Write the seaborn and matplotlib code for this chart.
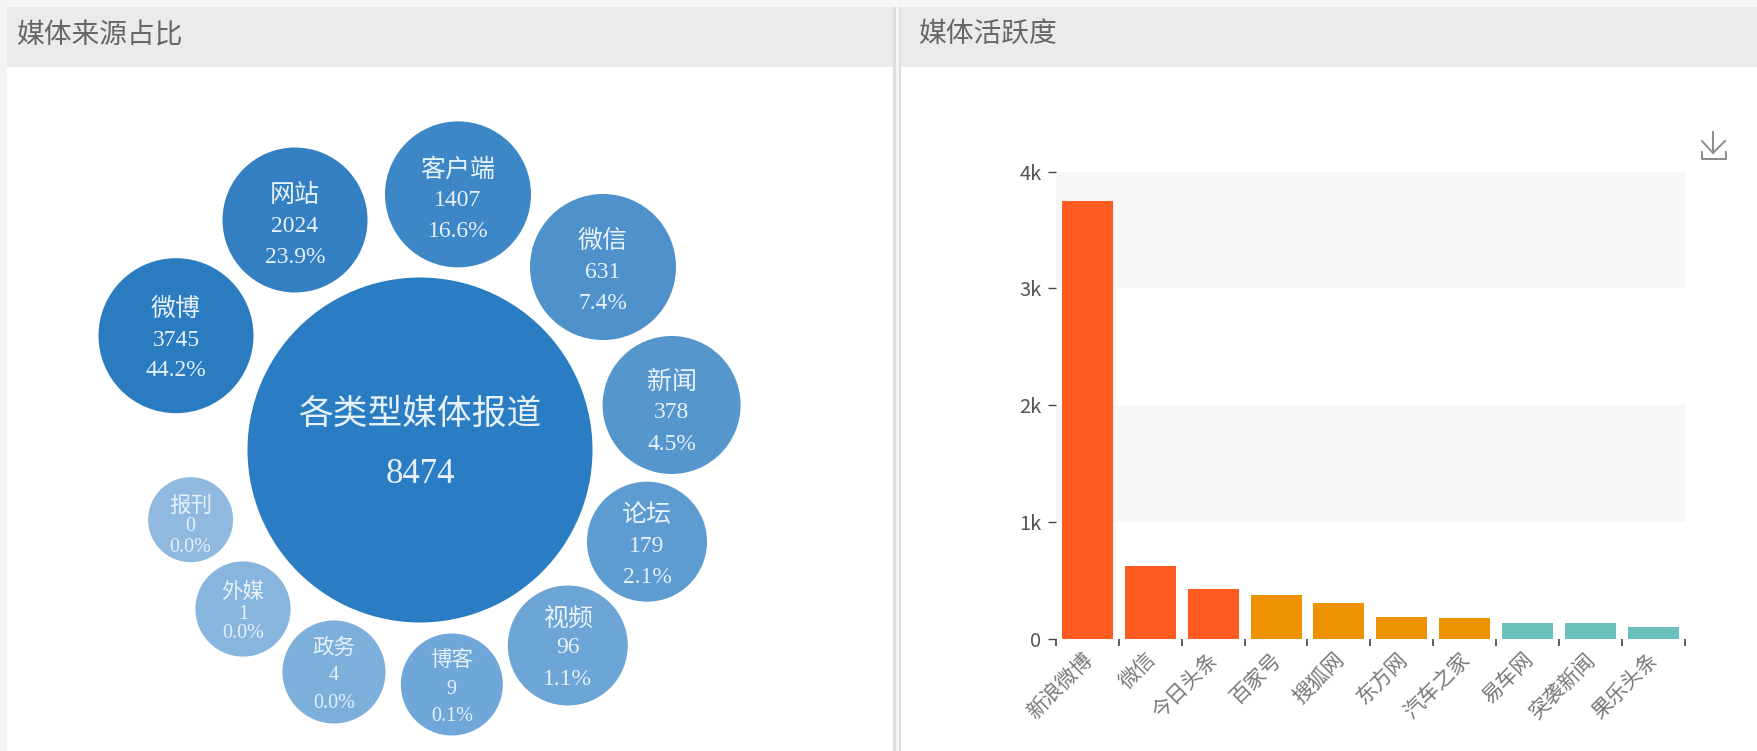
#!/usr/bin/env python3
# -*- coding: utf-8 -*-
import pandas as pd
import seaborn as sns
import matplotlib.pyplot as plt
from matplotlib.patches import Rectangle
from matplotlib.transforms import ScaledTranslation

WIDTH = 1757
HEIGHT = 751
CJK = ['Noto Sans CJK SC', 'DejaVu Sans']
NUM = ['Liberation Serif', 'DejaVu Serif']

# media source bubbles
SOURCES = ['微博', '网站', '客户端', '微信', '新闻', '论坛', '视频', '博客', '政务', '外媒', '报刊']
COUNTS = [3745, 2024, 1407, 631, 378, 179, 96, 9, 4, 1, 0]
SHARES = ['44.2%', '23.9%', '16.6%', '7.4%', '4.5%', '2.1%', '1.1%', '0.1%', '0.0%', '0.0%', '0.0%']
TOTAL_NAME = '各类型媒体报道'
TOTAL = 8474

# bubble layout, in pixels
BUBBLE_X = [176, 295, 458, 603, 671.6, 647, 567.8, 451.8, 334, 243, 190.6]
BUBBLE_Y = [335.7, 220, 194.4, 267, 405, 541.7, 645.5, 684.5, 672, 609, 519.7]
BUBBLE_R = [77.5, 72.5, 73, 73, 69, 60, 60, 51, 51.5, 47.6, 42.5]
BUBBLE_COLORS = ['#2b7bc0', '#347fc1', '#3d87c6', '#4e91cb', '#5596cd', '#5d9bd0',
                 '#6ca5d6', '#6fa7d8', '#7dafdb', '#88b5dd', '#8fb9de']
TEXT_COLOR = '#e6f1fa'
LINE_OFFSETS = [(-27, 4.5, 34.5), (-24.5, 6.5, 37.5), (-24.5, 6.5, 37.5), (-26, 5.5, 36.5),
                (-23, 7.5, 39), (-27, 4.4, 35.4), (-27, 2, 34), (-24, 5, 32.4),
                (-24.5, 4, 32), (-17.5, 5.6, 25), (-13.7, 6.6, 27.4)]
NAME_SIZES = [18] * 7 + [15.5] * 4
NUM_SIZES = [17] * 7 + [14.5] * 4

# media activity bars
MEDIA = ['新浪微博', '微信', '今日头条', '百家号', '搜狐网', '东方网', '汽车之家', '易车网', '突袭新闻', '果乐头条']
ACTIVITY = [3745, 631, 430, 378, 307, 192, 180, 139, 139, 110]
BAR_COLORS = ['#ff5a1f'] * 3 + ['#ef9200'] * 4 + ['#6bbfbc'] * 3
Y_TICKS = [0, 1000, 2000, 3000, 4000]
Y_LABELS = ['0', '1k', '2k', '3k', '4k']


def px_rect(ax, x0, y0, x1, y1, color):
    ax.add_patch(Rectangle((x0, y0), x1 - x0, y1 - y0, color=color, lw=0))


def draw_page(ax):
    ax.set_xlim(0, WIDTH)
    ax.set_ylim(HEIGHT, 0)
    ax.axis('off')
    px_rect(ax, 0, 0, WIDTH, 7, '#f6f6f6')
    px_rect(ax, 0, 0, 7, HEIGHT, '#f3f3f3')
    px_rect(ax, 7, 7, 893, 67, '#ebebeb')
    px_rect(ax, 901, 7, WIDTH, 67, '#ebebeb')
    px_rect(ax, 893, 7, 896, HEIGHT, '#dedede')
    px_rect(ax, 896, 7, 899, HEIGHT, '#f4f4f4')
    px_rect(ax, 899, 7, 901, HEIGHT, '#dedede')
    ax.text(16, 35, '媒体来源占比', family=CJK, fontsize=20, color='#666666',
            ha='left', va='center')
    ax.text(918, 35, '媒体活跃度', family=CJK, fontsize=20, color='#666666',
            ha='left', va='center')

    # download icon
    ax.plot([1713, 1713], [132, 153], color='#8c8c8c', lw=1.4)
    ax.plot([1702, 1713, 1725], [141, 153, 141], color='#8c8c8c', lw=1.4)
    ax.plot([1702, 1702, 1726, 1726], [152, 159, 159, 152], color='#777777', lw=1.2)


def draw_bubbles(ax):
    names = [TOTAL_NAME] + SOURCES
    data = pd.DataFrame({
        'name': names,
        'x': [420] + BUBBLE_X,
        'y': [450] + BUBBLE_Y,
    })
    radii = [172.5] + BUBBLE_R
    colors = ['#2b7dc3'] + BUBBLE_COLORS
    sizes = {n: (2 * r * 0.72) ** 2 for n, r in zip(names, radii)}
    sns.scatterplot(data=data, x='x', y='y', hue='name', size='name',
                    palette=dict(zip(names, colors)), sizes=sizes,
                    linewidth=0, legend=False, ax=ax, zorder=3)
    ax.set_xlim(0, WIDTH)
    ax.set_ylim(HEIGHT, 0)
    ax.axis('off')

    ax.text(420, 414.4, TOTAL_NAME, family=CJK, fontsize=25, color=TEXT_COLOR,
            ha='center', va='center', zorder=4)
    ax.text(420, 474.4, str(TOTAL), family=NUM, fontsize=25, color=TEXT_COLOR,
            ha='center', va='center', zorder=4)
    for i, name in enumerate(SOURCES):
        off = LINE_OFFSETS[i]
        ax.text(BUBBLE_X[i], BUBBLE_Y[i] + off[0], name, family=CJK,
                fontsize=NAME_SIZES[i], color=TEXT_COLOR, ha='center', va='center', zorder=4)
        ax.text(BUBBLE_X[i], BUBBLE_Y[i] + off[1], str(COUNTS[i]), family=NUM,
                fontsize=NUM_SIZES[i], color=TEXT_COLOR, ha='center', va='center', zorder=4)
        ax.text(BUBBLE_X[i], BUBBLE_Y[i] + off[2], SHARES[i], family=NUM,
                fontsize=NUM_SIZES[i], color=TEXT_COLOR, ha='center', va='center', zorder=4)


def draw_bars(fig):
    left, right, top, bottom = 1056, 1686, 171.5, 639.4
    ax = fig.add_axes([left / WIDTH, 1 - bottom / HEIGHT,
                       (right - left) / WIDTH, (bottom - top) / HEIGHT])
    ax.patch.set_alpha(0)
    data = pd.DataFrame({'media': MEDIA, 'count': ACTIVITY})
    sns.barplot(data=data, x='media', y='count', hue='media', palette=BAR_COLORS,
                width=0.81, saturation=1, legend=False, ax=ax, zorder=3)
    ax.set_xlim(-0.48, 9.52)
    ax.set_ylim(0, 4000)
    ax.axhspan(1000, 2000, color='#f7f7f7', lw=0, zorder=0)
    ax.axhspan(3000, 4000, color='#f7f7f7', lw=0, zorder=0)
    for spine in ax.spines.values():
        spine.set_visible(False)
    ax.set_xlabel('')
    ax.set_ylabel('')

    ax.set_yticks(Y_TICKS, Y_LABELS, family=CJK, fontsize=14.5, color='#555555')
    ax.tick_params(axis='y', length=5.5, width=1, color='#444444', pad=5)

    ax.set_xticks(range(len(MEDIA)), MEDIA, family=CJK, fontsize=15, color='#777777',
                  rotation=45, ha='right', va='top', rotation_mode='anchor')
    ax.set_xticks([i - 0.5 for i in range(len(MEDIA) + 1)], minor=True)
    ax.tick_params(axis='x', which='major', length=0, pad=6.5)
    ax.tick_params(axis='x', which='minor', length=5, width=1.2, color='#444444')
    shift = ScaledTranslation(-6 / 100, 0, fig.dpi_scale_trans)
    for lab in ax.get_xticklabels():
        lab.set_transform(lab.get_transform() + shift)


def main():
    fig = plt.figure(figsize=(WIDTH / 100, HEIGHT / 100), dpi=100, facecolor='white')
    ax = fig.add_axes([0, 0, 1, 1])
    draw_page(ax)
    draw_bubbles(ax)
    draw_bars(fig)
    fig.savefig('out.png', dpi=100)


if __name__ == '__main__':
    main()
